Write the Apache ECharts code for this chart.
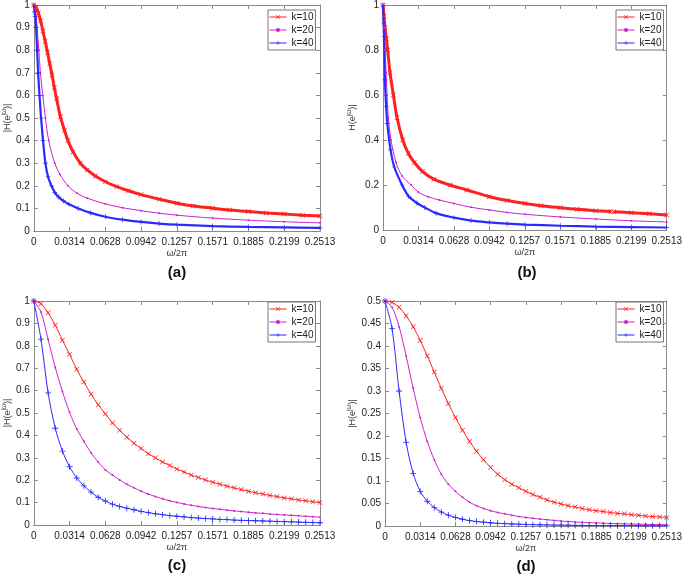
<!DOCTYPE html>
<html>
<head>
<meta charset="utf-8">
<script src="https://cdn.jsdelivr.net/npm/echarts@6/dist/echarts.min.js"></script>
<style>html,body{margin:0;padding:0;background:#fff}#c{width:685px;height:580px}</style>
</head>
<body>
<div id="c"></div>
<script>
// ---------- data ----------
const P = Math.PI / 100;            // x tick step (0.0314)
const xTickLabels = ['0','0.0314','0.0628','0.0942','0.1257','0.1571','0.1885','0.2199','0.2513'];
const yTicksAC = ['0','0.1','0.2','0.3','0.4','0.5','0.6','0.7','0.8','0.9','1'];
const yTicksB = ['0','0.2','0.4','0.6','0.8','1'];
const yTicksD = ['0','0.05','0.1','0.15','0.2','0.25','0.3','0.35','0.4','0.45','0.5'];
const seriesNames = ['k=10','k=20','k=40'];

// panel (a): [x, |H|]
const aK10 = [[0,1],[0.002,0.99],[0.004,0.965],[0.006,0.93],[0.008,0.885],[0.010,0.84],[0.012,0.79],[0.014,0.74],[0.016,0.69],[0.018,0.635],[0.020,0.585],[0.0234,0.505],[0.027,0.445],[0.030,0.40],[0.0345,0.35],[0.0409,0.30],[0.047,0.27],[0.054,0.243],[0.0628,0.218],[0.0729,0.196],[0.083,0.178],[0.0942,0.161],[0.11,0.141],[0.1257,0.123],[0.14,0.111],[0.1571,0.101],[0.172,0.093],[0.1885,0.086],[0.204,0.080],[0.2199,0.075],[0.236,0.070],[0.2513,0.066]];
const aK20 = [[0,1],[0.001,0.98],[0.002,0.95],[0.0029,0.9],[0.0044,0.8],[0.0058,0.7],[0.0079,0.6],[0.0102,0.5],[0.0131,0.4],[0.0184,0.3],[0.023,0.25],[0.030,0.2],[0.038,0.167],[0.047,0.145],[0.0628,0.12],[0.078,0.103],[0.0942,0.09],[0.11,0.079],[0.1257,0.07],[0.1571,0.057],[0.1885,0.048],[0.2199,0.041],[0.2513,0.036]];
const aK40 = [[0,1],[0.0007,0.97],[0.0013,0.95],[0.002,0.9],[0.0029,0.8],[0.0038,0.7],[0.005,0.6],[0.0064,0.5],[0.0081,0.4],[0.0102,0.3],[0.0125,0.24],[0.0155,0.2],[0.0185,0.17],[0.0219,0.15],[0.026,0.133],[0.031,0.118],[0.039,0.1],[0.05,0.08],[0.0628,0.063],[0.078,0.05],[0.0942,0.04],[0.11,0.033],[0.1257,0.028],[0.1571,0.022],[0.1885,0.018],[0.2199,0.016],[0.2513,0.014]];

// panel (b)
const bK10 = [[0,1],[0.0009,0.95],[0.0018,0.9],[0.003,0.85],[0.0041,0.8],[0.0062,0.7],[0.0092,0.6],[0.0124,0.5],[0.0175,0.4],[0.0225,0.34],[0.0278,0.3],[0.035,0.26],[0.045,0.226],[0.0593,0.2],[0.0742,0.178],[0.0942,0.148],[0.11,0.131],[0.1257,0.118],[0.14,0.108],[0.1571,0.099],[0.172,0.092],[0.1885,0.086],[0.202,0.082],[0.2032,null],[0.2044,0.081],[0.2199,0.077],[0.236,0.072],[0.2513,0.067]];
const bK20 = [[0,1],[0.0009,0.9],[0.0018,0.8],[0.0027,0.7],[0.0036,0.6],[0.0047,0.5],[0.0071,0.4],[0.0116,0.3],[0.017,0.24],[0.0249,0.2],[0.0314,0.168],[0.04,0.148],[0.05,0.133],[0.0628,0.118],[0.078,0.101],[0.0942,0.089],[0.11,0.078],[0.1257,0.07],[0.1571,0.058],[0.1885,0.049],[0.2199,0.041],[0.2513,0.036]];
const bK40 = [[0,1],[0.0005,0.92],[0.0009,0.86],[0.0017,0.667],[0.0028,0.55],[0.0038,0.474],[0.0067,0.356],[0.01,0.28],[0.0169,0.2],[0.0227,0.15],[0.03,0.12],[0.037,0.1],[0.047,0.075],[0.0628,0.055],[0.078,0.042],[0.0942,0.034],[0.11,0.028],[0.1257,0.024],[0.1571,0.019],[0.1885,0.015],[0.2199,0.013],[0.2513,0.011]];

// panels (c),(d): samples every 0.0062832 (41 points)
const cdStep = 0.0062832;
const cK10 = [1.0,0.988,0.947,0.892,0.825,0.762,0.695,0.638,0.584,0.537,0.496,0.456,0.423,0.392,0.365,0.342,0.318,0.300,0.281,0.266,0.250,0.237,0.223,0.212,0.201,0.191,0.182,0.173,0.166,0.158,0.151,0.144,0.138,0.132,0.127,0.121,0.117,0.112,0.108,0.104,0.101];
const cK20 = [1.0,0.951,0.828,0.703,0.596,0.503,0.429,0.374,0.322,0.281,0.246,0.223,0.201,0.182,0.166,0.151,0.138,0.127,0.117,0.108,0.101,0.094,0.088,0.083,0.078,0.074,0.070,0.066,0.063,0.060,0.057,0.054,0.052,0.049,0.047,0.045,0.043,0.041,0.039,0.037,0.035];
const cK40 = [1.0,0.83,0.59,0.432,0.33,0.26,0.21,0.175,0.147,0.124,0.107,0.093,0.083,0.075,0.068,0.061,0.055,0.05,0.046,0.042,0.039,0.036,0.033,0.031,0.029,0.027,0.025,0.024,0.022,0.021,0.02,0.019,0.018,0.017,0.016,0.015,0.014,0.013,0.012,0.011,0.01];
const dK10 = [0.5,0.497,0.486,0.467,0.443,0.412,0.378,0.342,0.306,0.272,0.241,0.213,0.188,0.166,0.147,0.130,0.115,0.103,0.093,0.085,0.077,0.070,0.064,0.058,0.053,0.049,0.045,0.042,0.039,0.036,0.034,0.032,0.030,0.028,0.027,0.025,0.024,0.022,0.021,0.020,0.019];
const dK20 = [0.5,0.486,0.443,0.378,0.306,0.241,0.188,0.147,0.115,0.093,0.077,0.064,0.053,0.045,0.039,0.034,0.030,0.027,0.024,0.021,0.019,0.017,0.0155,0.014,0.0125,0.011,0.010,0.009,0.0082,0.0075,0.0068,0.0062,0.0057,0.0052,0.0048,0.0044,0.004,0.0037,0.0034,0.0031,0.0029];
const dK40 = [0.5,0.439,0.300,0.186,0.117,0.077,0.055,0.041,0.031,0.024,0.019,0.015,0.012,0.010,0.0085,0.0072,0.006,0.0052,0.0045,0.004,0.0035,0.003,0.0027,0.0024,0.0021,0.0019,0.0017,0.0015,0.0014,0.0012,0.0011,0.001,0.0009,0.0008,0.0008,0.0007,0.0006,0.0006,0.0005,0.0005,0.0004];

// ---------- styling ----------
const RED = '#ff2020', MAG = '#cc22cc', BLUE = '#2a2aff';
const X_SYM = 'path://M0,1L1,0L5,4L9,0L10,1L6,5L10,9L9,10L5,6L1,10L0,9L4,5Z';
const PLUS_SYM = 'path://M4.3,0H5.7V4.3H10V5.7H5.7V10H4.3V5.7H0V4.3H4.3Z';
const FONT = '"Liberation Sans", Arial, sans-serif';
const AXC = '#8a8a8a';

const grids = [
  {left:33, top:5, width:287, height:226},
  {left:383, top:5, width:287, height:225},
  {left:33, top:301, width:287, height:224},
  {left:385, top:301, width:285, height:225}
];
const yCfg = [
  {max:1, step:0.1, labels:yTicksAC, name:'|H(e{s|jω})|', gap:16},
  {max:1, step:0.2, labels:yTicksB, name:'H(e{s|jω})|', gap:24},
  {max:1, step:0.1, labels:yTicksAC, name:'|H(e{s|jω})|', gap:16},
  {max:0.5, step:0.05, labels:yTicksD, name:'|H(e{s|jω})|', gap:26}
];

const xAxis = [], yAxis = [];
grids.forEach((g, gi) => {
  const base = {
    type:'value', gridIndex:gi, min:0, max:8*P, interval:P,
    axisLine:{show:true, onZero:false, lineStyle:{color:AXC, width:1}},
    axisTick:{show:true, inside:true, length:4, lineStyle:{color:AXC}},
    splitLine:{show:false}
  };
  xAxis.push(Object.assign({}, base, {
    position:'bottom',
    axisLabel:{fontSize:10, color:'#222', fontFamily:FONT, margin:6,
      formatter: v => xTickLabels[Math.round(v / P)]},
    name:'ω/2π', nameLocation:'middle', nameGap:18,
    nameTextStyle:{fontSize:9, color:'#333', fontFamily:FONT}
  }));
  xAxis.push(Object.assign({}, base, {position:'top', axisLabel:{show:false}}));
  const yc = yCfg[gi];
  const ybase = {
    type:'value', gridIndex:gi, min:0, max:yc.max, interval:yc.step,
    axisLine:{show:true, onZero:false, lineStyle:{color:AXC, width:1}},
    axisTick:{show:true, inside:true, length:4, lineStyle:{color:AXC}},
    splitLine:{show:false}
  };
  yAxis.push(Object.assign({}, ybase, {
    position:'left',
    axisLabel:{fontSize:10, color:'#222', fontFamily:FONT, margin:4,
      formatter: v => yc.labels[Math.round(v / yc.step)]},
    name: yc.name, nameLocation:'middle', nameGap: yc.gap,
    nameTextStyle:{fontSize:9, color:'#333', fontFamily:FONT,
      rich:{s:{fontSize:6.5, fontFamily:FONT, color:'#333', padding:[0,0,6,0]}}}
  }));
  yAxis.push(Object.assign({}, ybase, {position:'right', axisLabel:{show:false}}));
});

function mk(name, gi, data, color, sym, size, lw, smooth) {
  return {
    type:'line', name, xAxisIndex:2*gi, yAxisIndex:2*gi, data,
    symbol:sym, symbolSize:size, showSymbol:true, showAllSymbol:true,
    smooth: smooth, connectNulls:false,
    lineStyle:{color, width:lw}, itemStyle:{color, borderWidth:0},
    emphasis:{disabled:true}, animation:false, z:2
  };
}
const idx = arr => arr.map((v, i) => [i * cdStep, v]);
const series = [
  mk('k=10', 0, aK10, RED, X_SYM, 5, 3, 0.35),
  mk('k=20', 0, aK20, MAG, 'circle', 2, 1, 0.35),
  mk('k=40', 0, aK40, BLUE, PLUS_SYM, 5, 2.2, 0.35),
  mk('k=10', 1, bK10, RED, X_SYM, 5, 3, 0.35),
  mk('k=20', 1, bK20, MAG, 'circle', 2, 1, 0.35),
  mk('k=40', 1, bK40, BLUE, PLUS_SYM, 5, 2.2, 0.35),
  mk('k=10', 2, idx(cK10), RED, X_SYM, 5, 1, 0.3),
  mk('k=20', 2, idx(cK20), MAG, 'circle', 2, 1, 0.3),
  mk('k=40', 2, idx(cK40), BLUE, PLUS_SYM, 6, 1, 0.3),
  mk('k=10', 3, idx(dK10), RED, X_SYM, 5, 1, 0.3),
  mk('k=20', 3, idx(dK20), MAG, 'circle', 2, 1, 0.3),
  mk('k=40', 3, idx(dK40), BLUE, PLUS_SYM, 6, 1, 0.3)
];

const legendPos = [[268,10],[616,10],[268,302],[616,302]];
const legend = legendPos.map(p => ({
  orient:'vertical', left:p[0], top:p[1], data:seriesNames,
  itemWidth:17, itemHeight:5, itemGap:3,
  lineStyle:{width:1},
  textStyle:{fontSize:10, color:'#222', fontFamily:FONT},
  borderColor:'#777', borderWidth:1, borderRadius:0, padding:[2,2,2,1],
  backgroundColor:'#fff', selectedMode:false, z:5
}));

const panelLabels = [['(a)',177,273],['(b)',527,273],['(c)',177,566],['(d)',526,567]];
const graphic = panelLabels.map(l => ({
  type:'text', x:l[1], y:l[2],
  style:{text:l[0], textAlign:'center', textVerticalAlign:'middle',
    font:'bold 15px ' + FONT, fill:'#111'}
}));

const chart = echarts.init(document.getElementById('c'), null, {renderer:'canvas'});
chart.setOption({animation:false, grid:grids, xAxis, yAxis, series, legend, graphic});
</script>
</body>
</html>
